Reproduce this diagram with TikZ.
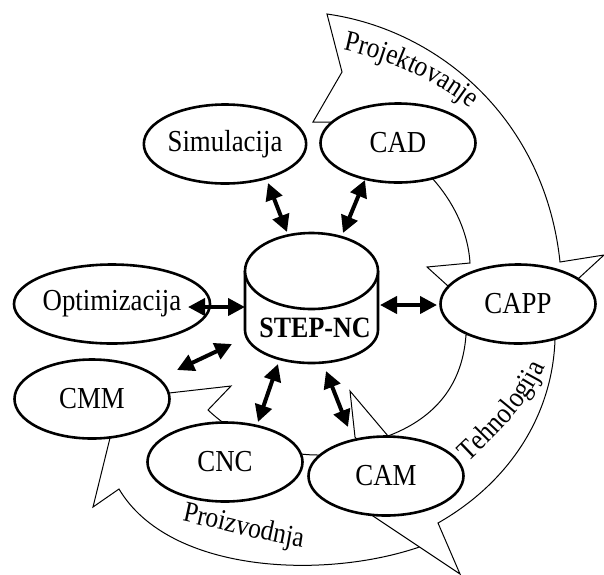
\documentclass[tikz,border=0pt]{standalone}
\usepackage{fontspec}
\setmainfont{Liberation Serif}[FakeStretch=0.88]
\usetikzlibrary{arrows.meta,decorations.text,shapes.geometric}
\begin{document}
\begin{tikzpicture}[x=1pt,y=-1pt,
  band/.style={draw=black,line width=1pt,fill=white,line join=miter},
  unit/.style={ellipse,draw=black,line width=2.6pt,fill=white,minimum width=155pt,minimum height=79pt,inner sep=0pt,font=\fontsize{30.5}{30.5}\selectfont},
  cylline/.style={draw=black,line width=2.6pt},
  link/.style={line width=4pt,{Triangle[length=17pt,width=17pt]}-{Triangle[length=17pt,width=17pt]}},
  bandlabel/.style={decoration={text along path,text={|\fontsize{29}{29}\selectfont|#1}},decorate}]
\useasboundingbox (0,0) rectangle (604,574);
\fill[white] (0,0) rectangle (604,574);

% Proizvodnja band
\draw[band] (119,489) .. controls (170,575) and (330,580) .. (425,545) -- (432,530) -- (390,470) -- (318,455)
  .. controls (280,455) and (240,440) .. (208,410) -- (231,386) -- (169,393) -- (110,438) -- (93,507) -- cycle;
% Tehnologija band
\draw[band] (518,320) -- (555,340) .. controls (552,420) and (505,485) .. (438,523) -- (460,574) -- (367,512)
  -- (380,470) -- (355,437) -- (350,391) -- (388,436) .. controls (430,420) and (462,390) .. (466,335) -- cycle;
% Projektovanje band
\draw[band] (327,14) .. controls (440,30) and (545,120) .. (560,262) -- (604,255) -- (579,278) -- (518,300)
  -- (448,286) -- (427,267) -- (470,263) .. controls (468,230) and (452,200) .. (432,178) -- (398,143)
  -- (330,122) -- (313,122) -- (342,72) -- cycle;

% nodes
\node[unit] (sim) at (225,144) {Simulacija};
\node[unit] (cad) at (398,143) {CAD};
\node[unit] (opt) at (112,304) {Optimizacija};
\node[unit] (capp) at (518,304) {CAPP};
\node[unit] (cmm) at (92,399) {CMM};
\node[unit] (cnc) at (225,462) {CNC};
\node[unit] (cam) at (386,476) {CAM};

% cylinder STEP-NC
\fill[white] (245,271) -- (245,330) arc[start angle=180,end angle=0,x radius=66.5,y radius=33] -- (378,271) -- cycle;
\draw[cylline] (245,271) -- (245,330) arc[start angle=180,end angle=0,x radius=66.5,y radius=33] -- (378,271);
\draw[cylline,fill=white] (311.5,271) ellipse[x radius=66.5,y radius=38];
\node[font=\bfseries\fontsize{29.5}{29.5}\selectfont] (step) at (315,328) {STEP-NC};

% labels along bands
\path[bandlabel=Projektovanje] (343,50) .. controls (390,60) and (440,80) .. (484,120);
\path[bandlabel=Tehnologija] (468,462) .. controls (507,425) and (537,395) .. (552,348);
\path[bandlabel=Proizvodnja] (182,521) .. controls (225,530) and (265,542) .. (314,549);

% arrows
\coordinate (s1) at (268,183); \coordinate (e1) at (287,232);
\coordinate (s2) at (365,180); \coordinate (e2) at (343,233);
\coordinate (s3) at (188,307); \coordinate (e3) at (245,307);
\coordinate (s4) at (380,305); \coordinate (e4) at (437,305);
\coordinate (s5) at (177,370); \coordinate (e5) at (232,344);
\coordinate (s6) at (278,364); \coordinate (e6) at (258,422);
\coordinate (s7) at (326,371); \coordinate (e7) at (348,427);
\draw[link] (s1) -- (e1);
\draw[link] (s2) -- (e2);
\draw[link] (s3) -- (e3);
\draw[link] (s4) -- (e4);
\draw[link] (s5) -- (e5);
\draw[link] (s6) -- (e6);
\draw[link] (s7) -- (e7);
\end{tikzpicture}
\end{document}
